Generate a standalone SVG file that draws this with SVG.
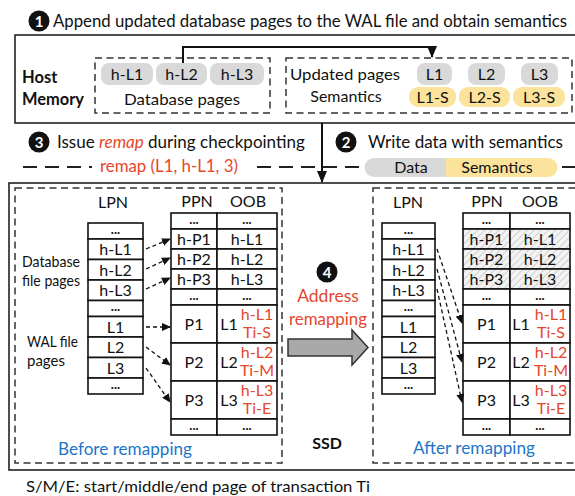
<svg xmlns="http://www.w3.org/2000/svg" width="575" height="496" viewBox="0 0 575 496">
<style>
text{font-family:Lato,"Open Sans","Liberation Sans",sans-serif;fill:#111}
.m{font-size:16px;text-anchor:middle}
.h{font-size:16px;text-anchor:middle}
.c{font-size:16px;text-anchor:middle}
.d{font-size:13px;font-weight:bold;text-anchor:middle}
.l{font-size:15px}
.b{font-weight:bold}
.red{fill:#e5472d}
.blue{fill:#1c76c8}
.num{fill:#fff;font-weight:bold;font-size:15px;text-anchor:middle}
.solid{fill:none;stroke:#222;stroke-width:1.6}
.dash{fill:none;stroke:#333;stroke-width:1.5;stroke-dasharray:7,4.5}
.cell{fill:#fff;stroke:#111;stroke-width:1.6}
.hat{fill:url(#hatch);stroke:#111;stroke-width:1.6}
.gp{fill:#d9d9d9}
.yp{fill:#fbe39c}
.ar{fill:none;stroke:#111;stroke-width:1.3;stroke-dasharray:4,3;marker-end:url(#ah)}
.sep{fill:none;stroke:#222;stroke-width:2;stroke-dasharray:14,8}
</style>
<defs>
<marker id="ah" markerWidth="9" markerHeight="8" refX="8" refY="4" orient="auto" markerUnits="userSpaceOnUse"><path d="M0,0 L9,4 L0,8 Z" fill="#111"/></marker>
<marker id="ah2" markerWidth="12" markerHeight="10" refX="11" refY="5" orient="auto" markerUnits="userSpaceOnUse"><path d="M0,0 L12,5 L0,10 Z" fill="#111"/></marker>
<pattern id="hatch" width="5" height="5" patternUnits="userSpaceOnUse" patternTransform="rotate(45)"><rect width="5" height="5" fill="#f3f3f3"/><line x1="0" y1="0" x2="0" y2="5" stroke="#c8c8c8" stroke-width="1.6"/></pattern>
</defs>

<!-- Title -->
<g id="title">
<circle cx="39" cy="21" r="10.5" fill="#111"/>
<text class="num" x="39" y="26.5">1</text>
<text x="53" y="27" font-size="16.5" textLength="514" lengthAdjust="spacingAndGlyphs">Append updated database pages to the WAL file and obtain semantics</text>
</g>

<!-- Host memory -->
<g id="host-memory">
<rect class="solid" x="15" y="35" width="575" height="88"/>
<text class="b" x="22" y="83" font-size="16.5">Host</text>
<text class="b" x="22" y="105" font-size="16.5" textLength="62" lengthAdjust="spacingAndGlyphs">Memory</text>
</g>

<g id="database-pages">
<rect class="dash" x="95" y="58" width="175" height="55"/>
<rect class="gp" x="101" y="63" width="52" height="22" rx="8"/>
<rect class="gp" x="156" y="63" width="51" height="22" rx="8"/>
<rect class="gp" x="210" y="63" width="54" height="22" rx="8"/>
<text class="c" x="127" y="80">h-L1</text>
<text class="c" x="181.5" y="80">h-L2</text>
<text class="c" x="237" y="80">h-L3</text>
<text class="c" x="182" y="105" textLength="116" lengthAdjust="spacingAndGlyphs">Database pages</text>
</g>

<g id="wal-pages">
<rect class="dash" x="286" y="58" width="286" height="55"/>
<text x="290" y="80" font-size="16" textLength="110" lengthAdjust="spacingAndGlyphs">Updated pages</text>
<text x="346" y="102" font-size="16" text-anchor="middle">Semantics</text>
<rect class="gp" x="417" y="63" width="35" height="22" rx="8"/>
<rect class="gp" x="468" y="63" width="37" height="22" rx="8"/>
<rect class="gp" x="521" y="63" width="37" height="22" rx="8"/>
<text class="c" x="434.5" y="80">L1</text>
<text class="c" x="486.5" y="80">L2</text>
<text class="c" x="539.5" y="80">L3</text>
<rect class="yp" x="409" y="87" width="47" height="20" rx="9"/>
<rect class="yp" x="459" y="87" width="51" height="20" rx="9"/>
<rect class="yp" x="513" y="87" width="52" height="20" rx="9"/>
<text class="c" x="432.5" y="102.5" font-size="15.5">L1-S</text>
<text class="c" x="484.5" y="102.5" font-size="15.5">L2-S</text>
<text class="c" x="539" y="102.5" font-size="15.5">L3-S</text>
</g>

<!-- Step 3 / Step 2 -->
<g id="step3">
<circle cx="39" cy="142" r="10.5" fill="#111"/>
<text class="num" x="39" y="147.5">3</text>
<text x="57" y="148" font-size="17"><tspan>Issue </tspan><tspan class="red" font-style="italic">remap</tspan><tspan> during checkpointing</tspan></text>
<text class="red" x="169" y="172" font-size="16.5" text-anchor="middle" textLength="138" lengthAdjust="spacingAndGlyphs">remap (L1, h-L1, 3)</text>
</g>
<g id="step2">
<circle cx="346" cy="142" r="10.5" fill="#111"/>
<text class="num" x="346" y="147.5">2</text>
<text x="368" y="148" font-size="17" textLength="195" lengthAdjust="spacingAndGlyphs">Write data with semantics</text>
<path class="gp" d="M374,158 H446 V177 H374 A9.5,9.5 0 0 1 374,158 Z"/>
<path class="yp" d="M446,158 H548 A9.5,9.5 0 0 1 548,177 H446 Z"/>
<text class="m" x="411" y="173">Data</text>
<text class="m" x="497" y="173">Semantics</text>
</g>
<g id="separator">
<line class="sep" x1="23" y1="167" x2="92" y2="167"/>
<line class="sep" x1="257" y1="167" x2="364" y2="167"/>
<line class="sep" x1="562" y1="167" x2="580" y2="167"/>
</g>

<!-- SSD -->
<g id="ssd">
<rect class="solid" x="9" y="183" width="580" height="287"/>
<text class="m b" x="327" y="449">SSD</text>
</g>

<g id="before-remapping">
<rect class="dash" x="15" y="188" width="267" height="275"/>
<text class="h" x="113" y="208">LPN</text>
<text class="h" x="197" y="207">PPN</text>
<text class="h" x="248" y="207">OOB</text>
<text class="l" x="22" y="267" textLength="58" lengthAdjust="spacingAndGlyphs">Database</text>
<text class="l" x="22" y="286" textLength="58" lengthAdjust="spacingAndGlyphs">file pages</text>
<text class="l" x="27" y="347" textLength="51" lengthAdjust="spacingAndGlyphs">WAL file</text>
<text class="l" x="27" y="366">pages</text>
<!-- LPN -->
<rect class="cell" x="88" y="223" width="55" height="16"/>
<rect class="cell" x="88" y="239" width="55" height="20.5"/>
<rect class="cell" x="88" y="259.5" width="55" height="20.5"/>
<rect class="cell" x="88" y="280" width="55" height="20.5"/>
<rect class="cell" x="88" y="300.5" width="55" height="16"/>
<rect class="cell" x="88" y="316.5" width="55" height="20.5"/>
<rect class="cell" x="88" y="337" width="55" height="20.5"/>
<rect class="cell" x="88" y="357.5" width="55" height="20.5"/>
<rect class="cell" x="88" y="378" width="55" height="16"/>
<text class="d" x="115.5" y="233.5">...</text>
<text class="c" x="115.5" y="255">h-L1</text>
<text class="c" x="115.5" y="275.5">h-L2</text>
<text class="c" x="115.5" y="296">h-L3</text>
<text class="d" x="115.5" y="311">...</text>
<text class="c" x="115.5" y="332.5">L1</text>
<text class="c" x="115.5" y="353">L2</text>
<text class="c" x="115.5" y="373.5">L3</text>
<text class="d" x="115.5" y="388.5">...</text>
<!-- PPN/OOB -->
<rect class="cell" x="171" y="213" width="46" height="16"/><rect class="cell" x="217" y="213" width="60" height="16"/>
<rect class="cell" x="171" y="229" width="46" height="20"/><rect class="cell" x="217" y="229" width="60" height="20"/>
<rect class="cell" x="171" y="249" width="46" height="20"/><rect class="cell" x="217" y="249" width="60" height="20"/>
<rect class="cell" x="171" y="269" width="46" height="20"/><rect class="cell" x="217" y="269" width="60" height="20"/>
<rect class="cell" x="171" y="289" width="46" height="16"/><rect class="cell" x="217" y="289" width="60" height="16"/>
<rect class="cell" x="171" y="305" width="46" height="38"/><rect class="cell" x="217" y="305" width="60" height="38"/>
<rect class="cell" x="171" y="343" width="46" height="38"/><rect class="cell" x="217" y="343" width="60" height="38"/>
<rect class="cell" x="171" y="381" width="46" height="38"/><rect class="cell" x="217" y="381" width="60" height="38"/>
<rect class="cell" x="171" y="419" width="46" height="16"/><rect class="cell" x="217" y="419" width="60" height="16"/>
<text class="d" x="194" y="223.5">...</text><text class="d" x="247" y="223.5">...</text>
<text class="c" x="194" y="244.5">h-P1</text><text class="c" x="247" y="244.5">h-L1</text>
<text class="c" x="194" y="264.5">h-P2</text><text class="c" x="247" y="264.5">h-L2</text>
<text class="c" x="194" y="284.5">h-P3</text><text class="c" x="247" y="284.5">h-L3</text>
<text class="d" x="194" y="299.5">...</text><text class="d" x="247" y="299.5">...</text>
<text class="m" x="194" y="330">P1</text><text class="m" x="229" y="330">L1</text>
<text class="m" x="194" y="368">P2</text><text class="m" x="229" y="368">L2</text>
<text class="m" x="194" y="406">P3</text><text class="m" x="229" y="406">L3</text>
<text class="c red" x="257" y="320" font-size="15.5">h-L1</text><text class="c red" x="257" y="338" font-size="15.5">Ti-S</text>
<text class="c red" x="257" y="358" font-size="15.5">h-L2</text><text class="c red" x="257" y="376" font-size="15.5">Ti-M</text>
<text class="c red" x="257" y="396" font-size="15.5">h-L3</text><text class="c red" x="257" y="414" font-size="15.5">Ti-E</text>
<text class="d" x="194" y="429.5">...</text><text class="d" x="247" y="429.5">...</text>
<text class="blue" x="125" y="455" font-size="17" text-anchor="middle" textLength="134" lengthAdjust="spacingAndGlyphs">Before remapping</text>
</g>

<g id="address-remapping">
<circle cx="327" cy="272" r="10.5" fill="#111"/>
<text class="num" x="327" y="277.5">4</text>
<text class="red" x="328" y="302" font-size="17.5" text-anchor="middle">Address</text>
<text class="red" x="328" y="325" font-size="17.5" text-anchor="middle" textLength="78" lengthAdjust="spacingAndGlyphs">remapping</text>
</g>

<g id="after-remapping">
<rect class="dash" x="373" y="188" width="210" height="275"/>
<text class="h" x="408" y="208">LPN</text>
<text class="h" x="487" y="207">PPN</text>
<text class="h" x="540" y="207">OOB</text>
<rect class="cell" x="382" y="223" width="53" height="16"/>
<rect class="cell" x="382" y="239" width="53" height="20.5"/>
<rect class="cell" x="382" y="259.5" width="53" height="20.5"/>
<rect class="cell" x="382" y="280" width="53" height="20.5"/>
<rect class="cell" x="382" y="300.5" width="53" height="16"/>
<rect class="cell" x="382" y="316.5" width="53" height="20.5"/>
<rect class="cell" x="382" y="337" width="53" height="20.5"/>
<rect class="cell" x="382" y="357.5" width="53" height="20.5"/>
<rect class="cell" x="382" y="378" width="53" height="16"/>
<text class="d" x="408.5" y="233.5">...</text>
<text class="c" x="408.5" y="255">h-L1</text>
<text class="c" x="408.5" y="275.5">h-L2</text>
<text class="c" x="408.5" y="296">h-L3</text>
<text class="d" x="408.5" y="311">...</text>
<text class="c" x="408.5" y="332.5">L1</text>
<text class="c" x="408.5" y="353">L2</text>
<text class="c" x="408.5" y="373.5">L3</text>
<text class="d" x="408.5" y="388.5">...</text>
<rect class="cell" x="463" y="213" width="47" height="16"/><rect class="cell" x="510" y="213" width="60" height="16"/>
<rect class="hat" x="463" y="229" width="47" height="20"/><rect class="hat" x="510" y="229" width="60" height="20"/>
<rect class="hat" x="463" y="249" width="47" height="20"/><rect class="hat" x="510" y="249" width="60" height="20"/>
<rect class="hat" x="463" y="269" width="47" height="20"/><rect class="hat" x="510" y="269" width="60" height="20"/>
<rect class="cell" x="463" y="289" width="47" height="16"/><rect class="cell" x="510" y="289" width="60" height="16"/>
<rect class="cell" x="463" y="305" width="47" height="38"/><rect class="cell" x="510" y="305" width="60" height="38"/>
<rect class="cell" x="463" y="343" width="47" height="38"/><rect class="cell" x="510" y="343" width="60" height="38"/>
<rect class="cell" x="463" y="381" width="47" height="38"/><rect class="cell" x="510" y="381" width="60" height="38"/>
<rect class="cell" x="463" y="419" width="47" height="16"/><rect class="cell" x="510" y="419" width="60" height="16"/>
<text class="d" x="486.5" y="223.5">...</text><text class="d" x="540" y="223.5">...</text>
<text class="c" x="486.5" y="244.5">h-P1</text><text class="c" x="540" y="244.5">h-L1</text>
<text class="c" x="486.5" y="264.5">h-P2</text><text class="c" x="540" y="264.5">h-L2</text>
<text class="c" x="486.5" y="284.5">h-P3</text><text class="c" x="540" y="284.5">h-L3</text>
<text class="d" x="486.5" y="299.5">...</text><text class="d" x="540" y="299.5">...</text>
<text class="m" x="486.5" y="330">P1</text><text class="m" x="521" y="330">L1</text>
<text class="m" x="486.5" y="368">P2</text><text class="m" x="521" y="368">L2</text>
<text class="m" x="486.5" y="406">P3</text><text class="m" x="521" y="406">L3</text>
<text class="c red" x="551" y="320" font-size="15.5">h-L1</text><text class="c red" x="551" y="338" font-size="15.5">Ti-S</text>
<text class="c red" x="551" y="358" font-size="15.5">h-L2</text><text class="c red" x="551" y="376" font-size="15.5">Ti-M</text>
<text class="c red" x="551" y="396" font-size="15.5">h-L3</text><text class="c red" x="551" y="414" font-size="15.5">Ti-E</text>
<text class="d" x="486.5" y="429.5">...</text><text class="d" x="540" y="429.5">...</text>
<text class="blue" x="474" y="454" font-size="17" text-anchor="middle" textLength="122" lengthAdjust="spacingAndGlyphs">After remapping</text>
</g>

<g id="footnote">
<text x="26" y="492" font-size="16" textLength="344" lengthAdjust="spacingAndGlyphs">S/M/E: start/middle/end page of transaction Ti</text>
</g>

<g id="connectors">
<path d="M183,63 V47 H432 V57" fill="none" stroke="#111" stroke-width="2" marker-end="url(#ah2)"/>
<path d="M322,123 V182" fill="none" stroke="#111" stroke-width="2" marker-end="url(#ah2)"/>
<path class="ar" d="M146,249 L170,239"/>
<path class="ar" d="M146,269 L170,258"/>
<path class="ar" d="M146,289 L170,278"/>
<path class="ar" d="M146,327 L170,327"/>
<path class="ar" d="M146,347 L170,365"/>
<path class="ar" d="M146,368 L170,402"/>
<path class="ar" d="M437,249 L462,323"/>
<path class="ar" d="M437,269 L462,362"/>
<path class="ar" d="M437,289 L462,402"/>
<polygon points="288,339 352,339 352,330 368,347.5 352,365 352,356 288,356" fill="#a9a9a9" stroke="#333" stroke-width="1.5"/>
</g>
</svg>
